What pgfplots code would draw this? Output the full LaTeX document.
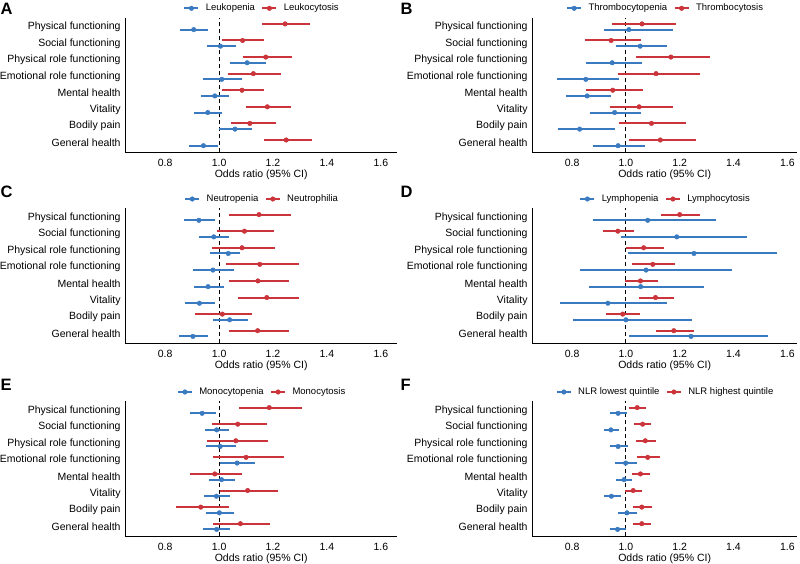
\documentclass[border=0pt]{standalone}
\usepackage{pgfplots}
\pgfplotsset{compat=1.18}
\usepackage{pgfplotstable}
\usepackage{fontspec}
\setmainfont{Liberation Sans}
\definecolor{myblue}{RGB}{58,122,192}
\definecolor{myred}{RGB}{203,52,58}

% columns: pos, red OR, red lo, red hi, blue OR, blue lo, blue hi
\pgfplotstableread{
pos ror rlo rhi bor blo bhi
8 1.245 1.160 1.338 0.906 0.855 0.959
7 1.087 1.012 1.166 1.005 0.954 1.061
6 1.173 1.087 1.270 1.104 1.041 1.174
5 1.127 1.033 1.229 1.010 0.939 1.085
4 1.085 1.012 1.167 0.984 0.933 1.038
3 1.179 1.099 1.267 0.958 0.907 1.011
2 1.114 1.045 1.210 1.059 1.001 1.122
1 1.249 1.165 1.343 0.942 0.890 0.995
}\tabA
\pgfplotstableread{
pos ror rlo rhi bor blo bhi
8 1.060 0.948 1.187 1.011 0.917 1.175
7 0.945 0.848 1.055 1.053 0.963 1.154
6 1.167 1.036 1.313 0.949 0.850 1.060
5 1.112 0.970 1.276 0.851 0.745 0.973
4 0.951 0.852 1.065 0.856 0.776 0.944
3 1.049 0.939 1.174 0.958 0.868 1.055
2 1.095 0.976 1.225 0.828 0.748 0.959
1 1.128 1.010 1.261 0.971 0.879 1.072
}\tabB
\pgfplotstableread{
pos ror rlo rhi bor blo bhi
8 1.148 1.038 1.268 0.925 0.871 0.984
7 1.094 0.994 1.203 0.980 0.927 1.036
6 1.085 0.974 1.209 1.034 0.968 1.076
5 1.151 1.025 1.296 0.977 0.905 1.057
4 1.144 1.038 1.259 0.959 0.908 1.017
3 1.177 1.070 1.298 0.927 0.872 0.983
2 1.012 0.911 1.123 1.039 0.978 1.106
1 1.143 1.036 1.261 0.903 0.851 0.958
}\tabC
\pgfplotstableread{
pos ror rlo rhi bor blo bhi
8 1.200 1.130 1.275 1.081 0.877 1.334
7 0.970 0.914 1.030 1.189 0.980 1.451
6 1.066 1.001 1.142 1.253 1.006 1.563
5 1.100 1.021 1.184 1.075 0.829 1.395
4 1.054 0.996 1.118 1.055 0.863 1.291
3 1.110 1.047 1.179 0.933 0.755 1.153
2 0.988 0.927 1.052 1.000 0.803 1.247
1 1.178 1.112 1.252 1.242 1.011 1.528
}\tabD
\pgfplotstableread{
pos ror rlo rhi bor blo bhi
8 1.186 1.075 1.309 0.937 0.893 0.988
7 1.069 0.974 1.177 0.991 0.947 1.038
6 1.062 0.954 1.182 1.004 0.953 1.062
5 1.100 0.977 1.240 1.067 1.004 1.135
4 0.984 0.893 1.085 1.009 0.963 1.058
3 1.106 1.004 1.217 0.990 0.943 1.039
2 0.932 0.841 1.038 1.001 0.953 1.055
1 1.079 0.978 1.188 0.991 0.942 1.041
}\tabE
\pgfplotstableread{
pos ror rlo rhi bor blo bhi
8 1.042 1.010 1.076 0.971 0.941 1.004
7 1.062 1.031 1.095 0.944 0.917 0.975
6 1.072 1.036 1.111 0.971 0.939 1.009
5 1.081 1.040 1.126 0.999 0.958 1.040
4 1.054 1.022 1.088 0.993 0.963 1.024
3 1.027 0.998 1.061 0.946 0.918 0.980
2 1.059 1.025 1.096 1.004 0.971 1.040
1 1.059 1.025 1.092 0.969 0.939 1.001
}\tabF

\pgfplotsset{
  fp/.style={
    scale only axis,
    height=134.5pt,
    xmin=0.652, ymin=0.43, ymax=8.54,
    enlargelimits=false,
    axis x line*=bottom, axis y line*=left,
    axis line style={-, line width=0.9pt, black},
    major tick length=0pt,
    tick style={draw=none},
    xtick={0.8,1.0,1.2,1.4,1.6},
    xticklabels={0.8,1.0,1.2,1.4,1.6},
    ytick={1,2,3,4,5,6,7,8},
    yticklabels={General health,Bodily pain,Vitality,Mental health,Emotional role functioning,Physical role functioning,Social functioning,Physical functioning},
    tick label style={font=\fontsize{10.5}{12}\selectfont, inner sep=0pt},
    yticklabel style={anchor=east, xshift=-4.5pt},
    xticklabel style={anchor=north, yshift=-6.7pt},
    xlabel={Odds ratio (95\% CI)},
    xlabel style={font=\fontsize{10.5}{12}\selectfont, at={(axis description cs:0.5,0)}, anchor=base, yshift=-25.7pt, inner sep=0pt},
    legend style={at={(axis description cs:0.5,1)}, anchor=center, yshift=9.5pt,
      draw=none, fill=none, legend columns=-1, column sep=6.5pt,
      nodes={inner sep=0pt}, font=\fontsize{9.5}{11}\selectfont},
    legend image code/.code={\draw[#1, line width=1.8pt] (0pt,0pt) -- (14pt,0pt); \fill[#1] (7pt,0pt) circle (2.3pt);},
  },
  pt/.style={forget plot, only marks, mark=*, mark size=2.3pt},
  seg/.style={forget plot, no markers, line width=2pt, line cap=butt, -},
}

\newcommand{\forest}[7]{%
\begin{axis}[fp, at={(#1pt,#2pt)}, anchor=south west, width=#3pt, xmax=#4]
\addplot[forget plot, black, line width=1pt, dash pattern=on 4pt off 3pt] coordinates {(1,0.43) (1,8.54)};
\addplot[myblue, pt] table[x=bor, y expr=\thisrow{pos}-0.172] {#5};
\addplot[myred, pt] table[x=ror, y expr=\thisrow{pos}+0.172] {#5};
\addplot[myblue, seg, quiver={u=\thisrow{bhi}-\thisrow{blo}, v=0}] table[x=blo, y expr=\thisrow{pos}-0.172] {#5};
\addplot[myred, seg, quiver={u=\thisrow{rhi}-\thisrow{rlo}, v=0}] table[x=rlo, y expr=\thisrow{pos}+0.172] {#5};
\addlegendimage{myblue}\addlegendentry{#6}
\addlegendimage{myred}\addlegendentry{#7}
\end{axis}}

\begin{document}
\begin{tikzpicture}[x=1pt,y=1pt]
\useasboundingbox (0,0) rectangle (800,563);
\forest{125.3}{410.7}{271.7}{1.660}{\tabA}{Leukopenia}{Leukocytosis}
\forest{532.3}{410.7}{264.7}{1.636}{\tabB}{Thrombocytopenia}{Thrombocytosis}
\forest{125.3}{220}{271.7}{1.660}{\tabC}{Neutropenia}{Neutrophilia}
\forest{532.3}{220}{264.7}{1.636}{\tabD}{Lymphopenia}{Lymphocytosis}
\forest{125.3}{27}{271.7}{1.660}{\tabE}{Monocytopenia}{Monocytosis}
\forest{532.3}{27}{264.7}{1.636}{\tabF}{NLR lowest quintile}{NLR highest quintile}
\begin{scope}[every node/.style={anchor=west, inner sep=0pt, font=\bfseries\fontsize{16.5}{18}\selectfont}]
\node at (0.5,553.8) {A};
\node at (400.5,553.8) {B};
\node at (0.5,371.5) {C};
\node at (400.5,371.5) {D};
\node at (0.5,178) {E};
\node at (400.5,178) {F};
\end{scope}
\end{tikzpicture}
\end{document}
